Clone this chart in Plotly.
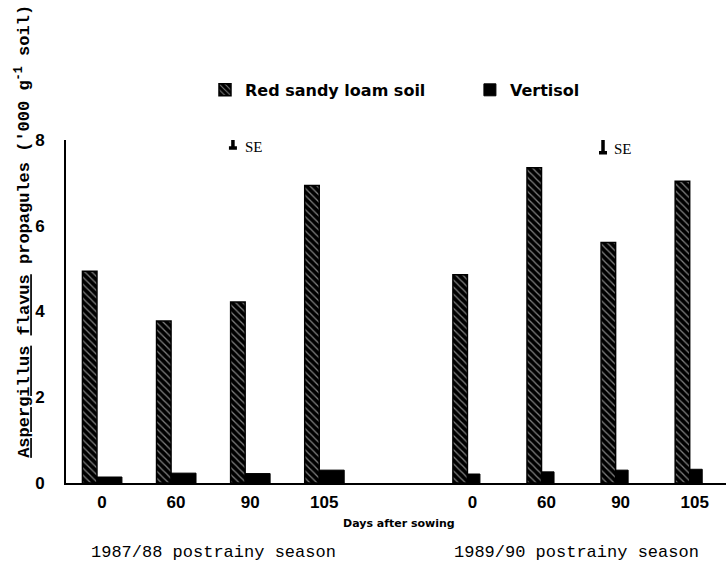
import plotly.graph_objects as go

# ---- data ----
days = ["0", "60", "90", "105", "0", "60", "90", "105"]
positions = [0, 1, 2, 3, 5, 6, 7, 8]
red_sandy_loam = [4.94, 3.78, 4.22, 6.94, 4.86, 7.35, 5.61, 7.04]
vertisol = [0.14, 0.23, 0.22, 0.30, 0.21, 0.26, 0.30, 0.32]
se_x = [1.835, 6.83]
se_y = [7.93, 7.88]
se_half = [0.115, 0.175]
seasons = ["1987/88 postrainy season", "1989/90 postrainy season"]

red_w = 0.196
vert_w = [0.337] * 4 + [0.169] * 4

fig = go.Figure()
fig.add_trace(go.Bar(
    x=positions, y=red_sandy_loam, name="Red sandy loam soil", legend="legend",
    width=[red_w] * len(positions), offset=-red_w,
    marker=dict(color="black", line=dict(color="black", width=1.5),
                pattern=dict(shape="\\", bgcolor="black", fgcolor="white",
                             size=5, solidity=0.25)),
))
fig.add_trace(go.Bar(
    x=positions, y=vertisol, name="Vertisol", legend="legend2",
    width=vert_w, offset=0,
    marker=dict(color="black", line=dict(color="black", width=1)),
))
fig.add_trace(go.Scatter(
    x=se_x, y=se_y, mode="markers", showlegend=False,
    marker=dict(size=1, color="rgba(0,0,0,0)"),
    error_y=dict(type="data", array=se_half, symmetric=True,
                 color="black", thickness=3.5, width=4),
    cliponaxis=False, hoverinfo="skip",
))

mono = "Liberation Mono"
sans = "Liberation Sans"
wide = "DejaVu Sans"


def note(x, y, text, font, xref="paper", yref="paper", angle=0):
    return dict(x=x, y=y, xref=xref, yref=yref, text=text, showarrow=False,
                xanchor="center", yanchor="middle", textangle=angle, font=font)


ann = [
    note(2.125, 7.83, "SE", dict(family="Liberation Serif", size=15, color="black"), "x", "y"),
    note(7.10, 7.79, "SE", dict(family="Liberation Serif", size=15, color="black"), "x", "y"),
    note(0.505, -0.117, "Days after sowing",
         dict(family=wide, size=11, color="black", weight="bold")),
    note(0.223, -0.204, seasons[0], dict(family=mono, size=17, color="black")),
    note(0.773, -0.204, seasons[1], dict(family=mono, size=17, color="black")),
    note(-0.0652, 0.735,
         ("<span style='text-decoration:underline'>Aspergillus</span> "
          "<span style='text-decoration:underline'>flavus</span> "
          "propagules ('000 g<sup>-1</sup> soil)"),
         dict(family=mono, size=17, color="black", weight="bold"), angle=-90),
]

legend_font = dict(family=wide, size=16, color="black", weight="bold")

fig.update_layout(
    width=726, height=563,
    margin=dict(l=66, r=0, t=140, b=80),
    paper_bgcolor="white", plot_bgcolor="white",
    barmode="overlay",
    showlegend=True,
    legend=dict(orientation="h", x=0.2106, xanchor="left", y=1.146, yanchor="middle",
                font=legend_font, bgcolor="rgba(0,0,0,0)"),
    legend2=dict(orientation="h", x=0.612, xanchor="left", y=1.146, yanchor="middle",
                 font=legend_font, bgcolor="rgba(0,0,0,0)"),
    annotations=ann,
    xaxis=dict(range=[-0.418, 8.49], tickvals=positions, ticktext=days,
               showgrid=False, zeroline=False, showline=True, linecolor="black",
               linewidth=2, ticks="", ticklabelstandoff=3, ticklabelshift=5,
               tickfont=dict(family=sans, size=17, color="black", weight="bold")),
    yaxis=dict(range=[0, 8], tickvals=[0, 2, 4, 6, 8],
               showgrid=False, zeroline=False, showline=True, linecolor="black",
               linewidth=2, ticks="", ticklabelstandoff=16,
               tickfont=dict(family=sans, size=17, color="black", weight="bold")),
)

fig.write_html("out.html", config={"displayModeBar": False},
               post_script="document.body.style.margin='0';document.body.style.overflow='hidden';")
